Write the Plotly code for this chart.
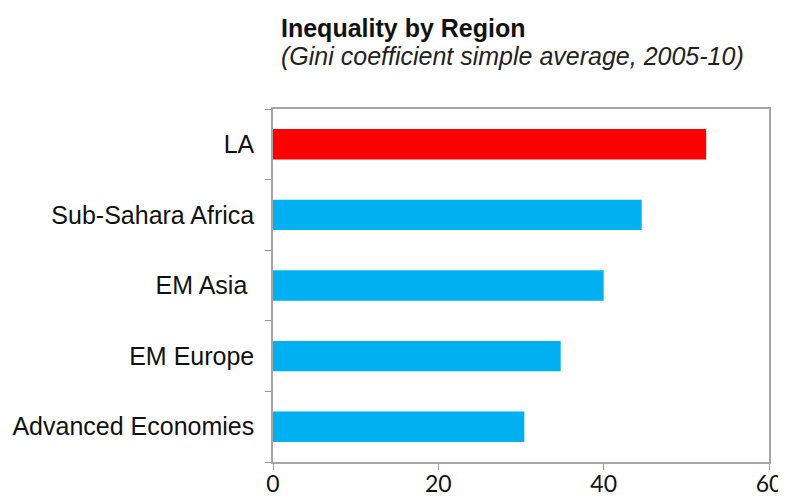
import plotly.graph_objects as go

# data
regions = ["Advanced Economies", "EM Europe", "EM Asia ", "Sub-Sahara Africa", "LA"]
gini = [30.4, 34.8, 40.0, 44.6, 52.4]
bar_colors = ["#00B0F0", "#00B0F0", "#00B0F0", "#00B0F0", "#FF0000"]
x_ticks = [0, 20, 40, 60]

fig = go.Figure()
fig.add_trace(go.Bar(x=gini, y=regions, orientation="h",
                     marker=dict(color=bar_colors, line=dict(width=0)),
                     hoverinfo="x+y"))

# the page body has an 8px margin, so the figure is kept small enough
# that the page does not scroll
fig.update_layout(
    width=778, height=488,
    margin=dict(l=265, r=17, t=101, b=34),
    paper_bgcolor="white", plot_bgcolor="white",
    showlegend=False, bargap=0.57,
    font=dict(family="Liberation Sans, Arial, sans-serif", color="#111"),
    xaxis=dict(range=[0, 60], tickvals=x_ticks, ticks="outside", ticklen=6,
               tickcolor="#999", showgrid=False, zeroline=False,
               showline=True, linecolor="#a6a6a6", linewidth=1.5, mirror=True,
               tickfont=dict(family="Lato, sans-serif", size=23, color="#111"),
               ticklabelstandoff=-5, ticklabeloverflow="allow",
               automargin=False),
    yaxis=dict(ticks="outside", tickson="boundaries", ticklen=6,
               tickcolor="#999", showgrid=False, zeroline=False,
               showline=True, linecolor="#a6a6a6", linewidth=1.5, mirror=True,
               tickfont=dict(size=25, color="#111"), ticklabelstandoff=12,
               automargin=False),
)

fig.add_annotation(text="<b>Inequality by Region</b>", xref="paper", yref="paper",
                   x=0.012, y=1.229, xanchor="left", yanchor="middle",
                   showarrow=False, font=dict(size=25, color="#111"))
fig.add_annotation(text="<i>(Gini coefficient simple average, 2005-10)</i>",
                   xref="paper", yref="paper", x=0.012, y=1.150,
                   xanchor="left", yanchor="middle", showarrow=False,
                   font=dict(size=25, color="#222"))

fig.write_html("out.html")
